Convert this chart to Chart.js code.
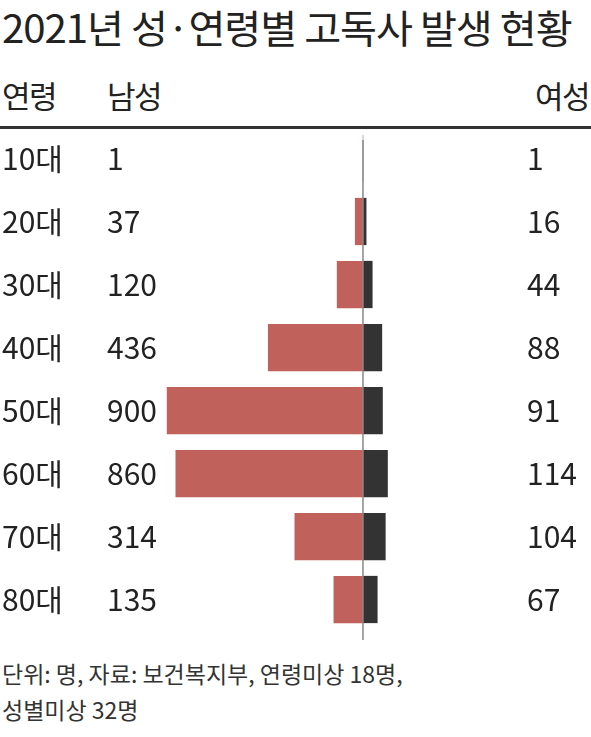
<!DOCTYPE html>
<html>
<head>
<meta charset="utf-8">
<script src="https://cdn.jsdelivr.net/npm/chart.js@4"></script>
<style>
  body { margin: 0; width: 591px; height: 737px; background: #fff; font-family: "Noto Sans CJK KR", sans-serif; color: #222; position: relative; overflow: hidden; }
  .t { position: absolute; white-space: nowrap; letter-spacing: -1.5px; }
  #wrap { position: absolute; left: 0; top: 0; width: 591px; height: 737px; }
</style>
</head>
<body>
<div class="t" style="left:2px;top:-2px;font-size:39px;letter-spacing:-1px;transform:scaleX(1.03);transform-origin:left;">2021년 성·연령별 고독사 발생 현황</div>
<div class="t" style="left:2px;top:72px;font-size:31px;">연령</div>
<div class="t" style="left:107px;top:72px;font-size:31px;">남성</div>
<div class="t" style="right:2px;top:72px;font-size:31px;">여성</div>
<div style="position:absolute;left:0;top:126px;width:591px;height:3px;background:#333;"></div>
<div class="t" style="left:2px;top:656px;font-size:23px;color:#333;letter-spacing:0;">단위: 명, 자료: 보건복지부, 연령미상 18명,</div>
<div class="t" style="left:2px;top:692px;font-size:23px;color:#333;letter-spacing:0;">성별미상 32명</div>
<div id="wrap"><canvas id="chart" width="591" height="737"></canvas></div>
<script>
const ages = ["10대", "20대", "30대", "40대", "50대", "60대", "70대", "80대"];
const male = [1, 37, 120, 436, 900, 860, 314, 135];
const female = [1, 16, 44, 88, 91, 114, 104, 67];

// draw age labels, numbers and the centre line
const rowText = {
  id: "rowText",
  afterDatasetsDraw(chart) {
    const c = chart.ctx;
    const y = chart.scales.y;
    const x = chart.scales.x;
    const x0 = x.getPixelForValue(0);
    c.save();
    c.strokeStyle = "#888";
    c.lineWidth = 1.5;
    c.beginPath();
    c.moveTo(x0, 140);
    c.lineTo(x0, 640);
    c.stroke();
    c.fillStyle = "#222";
    c.font = "30px 'Noto Sans CJK KR'";
    c.textBaseline = "middle";
    ages.forEach((a, i) => {
      const py = y.getPixelForValue(i);
      c.textAlign = "left";
      c.fillText(a, 2, py);
      c.fillText(String(male[i]), 107, py);
      c.fillText(String(female[i]), 527, py);
    });
    c.restore();
  }
};

new Chart(document.getElementById("chart"), {
  type: "bar",
  data: {
    labels: ages,
    datasets: [
      { label: "남성", data: male.map(v => -v), backgroundColor: "#c0615b", barPercentage: 0.75, categoryPercentage: 1 },
      { label: "여성", data: female, backgroundColor: "#333333", barPercentage: 0.75, categoryPercentage: 1 },
    ],
  },
  options: {
    indexAxis: "y",
    responsive: false,
    animation: false,
    layout: { padding: { top: 127, bottom: 106, left: 0, right: 0 } },
    plugins: { legend: { display: false }, tooltip: { enabled: false } },
    scales: {
      x: { display: false, stacked: true, min: -1665, max: 1046 },
      y: { display: false, stacked: true },
    },
  },
  plugins: [rowText],
});
</script>
</body>
</html>
